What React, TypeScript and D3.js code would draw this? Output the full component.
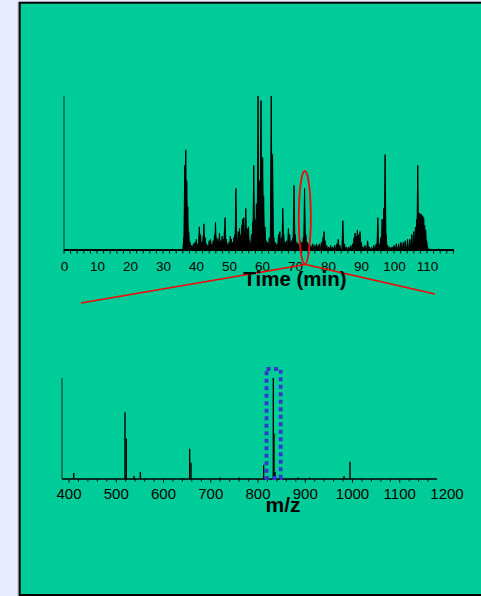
import React from 'react';
import * as d3 from 'd3';

// ---- Data ----
const timeTicks = [0, 10, 20, 30, 40, 50, 60, 70, 80, 90, 100, 110];
// chromatogram peaks: [retention time (min), relative intensity %]
const chromPeaks: [number, number][] = [
  [36.3, 8], [36.6, 55], [36.9, 65], [37.2, 45], [37.5, 28], [37.8, 12], [38.2, 5], [38.7, 3], [39.2, 4],
  [39.7, 5], [40.1, 7], [40.5, 4], [41.0, 15], [41.4, 10], [41.8, 5], [42.2, 9], [42.4, 17], [42.8, 8],
  [43.2, 4], [43.6, 3], [44.0, 6], [44.4, 7], [44.8, 4], [45.2, 6], [45.6, 10], [45.9, 18], [46.3, 8],
  [46.7, 7], [47.1, 11], [47.5, 6], [47.9, 9], [48.2, 7], [48.6, 12], [48.8, 21], [49.2, 7], [49.6, 4],
  [50.0, 5], [50.4, 9], [50.7, 7], [51.1, 5], [51.5, 8], [51.8, 10], [52.1, 40], [52.4, 8], [52.8, 12],
  [53.2, 14], [53.6, 10], [53.9, 16], [54.1, 20], [54.5, 21], [54.7, 12], [55.1, 27], [55.5, 14], [55.9, 15],
  [56.3, 6], [56.8, 10], [57.2, 18], [57.5, 55], [57.9, 20], [58.3, 30], [58.8, 100], [59.2, 45], [59.7, 97],
  [60.2, 60], [60.5, 35], [60.9, 15], [61.3, 6], [61.7, 5], [62.2, 8], [62.8, 100], [63.2, 62], [63.6, 8],
  [64.0, 5], [64.5, 4], [65.0, 10], [65.4, 12], [65.9, 8], [66.3, 27], [66.6, 10], [67.0, 5], [67.4, 6],
  [68.0, 14], [68.4, 10], [68.9, 6], [69.4, 8], [69.7, 42], [70.1, 10], [70.6, 5], [71.1, 4], [71.6, 6],
  [72.1, 5], [72.5, 8], [72.9, 40], [73.3, 10], [73.8, 5], [74.3, 4], [74.8, 3], [75.4, 4], [76.0, 3],
  [76.5, 4], [77.0, 3], [77.4, 4], [78.0, 5], [78.5, 8], [78.8, 12], [79.1, 6], [79.6, 3], [80.2, 2],
  [80.8, 3], [81.4, 2], [82.0, 3], [82.6, 4], [83.1, 7], [83.6, 3], [84.5, 19], [85.0, 4], [85.6, 2],
  [86.3, 2], [86.9, 3], [87.5, 4], [87.9, 8], [88.2, 11], [88.6, 9], [88.9, 13], [89.3, 10], [89.7, 12],
  [90.1, 5], [90.6, 2], [91.2, 3], [92.0, 6], [92.5, 2], [93.2, 2], [93.9, 3], [94.6, 4], [95.1, 21],
  [95.5, 4], [96.0, 8], [96.4, 20], [96.9, 27], [97.3, 62], [97.6, 10], [98.1, 3], [98.7, 2], [99.4, 2],
  [100.0, 3], [100.7, 4], [101.4, 4], [102.1, 5], [102.8, 5], [103.4, 6], [104.1, 7], [104.8, 7], [105.4, 10],
  [106.0, 12], [106.5, 15], [106.9, 20], [107.2, 55], [107.5, 24], [107.8, 24], [108.1, 23], [108.4, 23],
  [108.7, 22], [109.0, 21], [109.3, 16], [109.6, 13], [109.9, 6], [110.2, 2], [111.1, 0.5], [113.6, 0.8],
];

const mzTicks = [400, 500, 600, 700, 800, 900, 1000, 1100, 1200];
// mass spectrum: [m/z, relative intensity %]
const mzPeaks: [number, number][] = [
  [410, 6], [518.5, 66], [521.3, 40], [537.6, 3], [551, 7], [655.4, 30], [658.2, 16], [720, 1.5],
  [760, 1.5], [812, 14], [832.4, 100], [833.9, 45], [836, 7], [885, 1.5], [909, 1.5], [982, 3], [994.7, 17],
];

// ---- Layout ----
const W = 481, H = 596;
const GREEN = '#00cc99';
const FONT = "Arial, 'Liberation Sans', Helvetica, sans-serif";

export default function App() {
  // top chart scales
  const xT = d3.scaleLinear().domain([0, 110]).range([64, 427]);
  const yT = d3.scaleLinear().domain([0, 100]).range([250, 96]);
  const tMax = 118.2;
  const minorT = d3.range(0, 119, 2);
  const hw = 0.3;

  const chromPath = chromPeaks
    .map(([t, h]) => `M${xT(t - hw)},${yT(0)}L${xT(t)},${yT(h)}L${xT(t + hw)},${yT(0)}Z`)
    .join('');

  // bottom chart scales
  const xM = d3.scaleLinear().domain([400, 1200]).range([69, 447]);
  const yM = d3.scaleLinear().domain([0, 100]).range([479, 378]);
  const mzMin = 385.2, mzMax = 1179;
  const minorM = d3.range(400, 1180, 20);

  // annotations
  const ell = { cx: xT(72.97), cy: 217.5, rx: 6, ry: 46.5 };
  const apex = { x: 305.5, y: 264.5 };
  const boxL = xM(818), boxR = xM(848);

  return (
    <svg width={W} height={H} style={{ position: 'absolute', left: 0, top: 0 }} fontFamily={FONT}>
      <rect x={0} y={0} width={W} height={H} fill="#e8eaff" />
      <line x1={18.2} y1={2} x2={18.2} y2={H} stroke="#9aa0b0" strokeWidth={1} />
      <rect x={19.7} y={2.7} width={W + 10} height={592.3} fill={GREEN} stroke="#000" strokeWidth={2} />

      {/* Top chromatogram */}
      <line x1={xT(0)} y1={yT(0)} x2={xT(0)} y2={yT(100)} stroke="rgba(0,0,0,0.65)" strokeWidth={1.2} />
      <path d={chromPath} fill="#000" stroke="#000" strokeWidth={1} strokeLinejoin="round" />
      <line x1={xT(0)} y1={yT(0)} x2={xT(tMax)} y2={yT(0)} stroke="#000" strokeWidth={1.8} />
      {minorT.map((t) => (
        <line key={'tt' + t} x1={xT(t)} x2={xT(t)} y1={yT(0)} y2={yT(0) + 3.5} stroke="#000" strokeWidth={1} />
      ))}
      {timeTicks.map((t) => (
        <text key={'tl' + t} x={xT(t) + 0.5} y={271} fontSize={13.5} textAnchor="middle" fill="#000">
          {t}
        </text>
      ))}

      {/* red zoom annotation */}
      <ellipse cx={ell.cx} cy={ell.cy} rx={ell.rx} ry={ell.ry} fill="none" stroke="#ff0000" strokeWidth={1.8} />
      <line x1={apex.x} y1={apex.y} x2={81} y2={303} stroke="#ff0000" strokeWidth={1.6} />
      <line x1={apex.x} y1={apex.y} x2={435} y2={294} stroke="#ff0000" strokeWidth={1.6} />

      <text x={295} y={286} fontSize={20.5} fontWeight="bold" textAnchor="middle" fill="#000">
        Time (min)
      </text>

      {/* Bottom mass spectrum */}
      <line x1={xM(mzMin)} y1={yM(0)} x2={xM(mzMin)} y2={yM(100)} stroke="rgba(0,0,0,0.65)" strokeWidth={1.2} />
      {mzPeaks.map(([m, h]) => (
        <line key={'mp' + m} x1={xM(m)} x2={xM(m)} y1={yM(0)} y2={yM(h)} stroke="#000" strokeWidth={1.4} />
      ))}
      <line x1={xM(mzMin)} y1={yM(0)} x2={xM(mzMax)} y2={yM(0)} stroke="#000" strokeWidth={1.6} />
      {minorM.map((m) => (
        <line key={'mt' + m} x1={xM(m)} x2={xM(m)} y1={yM(0)} y2={yM(0) + (m % 100 === 0 ? 3.5 : 2.5)} stroke="#000" strokeWidth={1} />
      ))}
      {mzTicks.map((m) => (
        <text key={'ml' + m} x={xM(m)} y={498.5} fontSize={15} textAnchor="middle" fill="#000">
          {m}
        </text>
      ))}

      <rect x={boxL} y={369} width={boxR - boxL} height={109} fill="none" stroke="#3535d0" strokeWidth={3.8} strokeDasharray="4,3.5" />

      <text x={283} y={512} fontSize={21} fontWeight="bold" textAnchor="middle" fill="#000">
        m/z
      </text>
    </svg>
  );
}
